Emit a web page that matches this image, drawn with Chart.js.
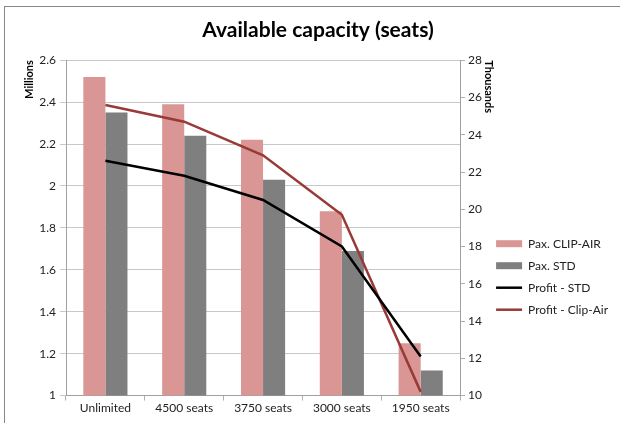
<!DOCTYPE html>
<html>
<head>
<meta charset="utf-8">
<script src="https://cdn.jsdelivr.net/npm/chart.js@4/dist/chart.umd.min.js"></script>
<style>
  body { margin: 0; background: #fff; }
  #frame { position: absolute; left: 4px; top: 6px; width: 700px; height: 500px;
           border-top: 1px solid #888; border-left: 1px solid #888; }
  #wrap { position: absolute; left: 0; top: 0; width: 620px; height: 423px; }
</style>
</head>
<body>
<div id="frame"></div>
<div id="wrap"><canvas id="grafico" width="620" height="423"></canvas></div>
<script>
      // ---------- dados ----------
      const categories = ["Unlimited", "4500 seats", "3750 seats", "3000 seats", "1950 seats"];
      const paxClipAir = [2.52, 2.39, 2.22, 1.88, 1.25];     // millions
      const paxStd = [2.35, 2.24, 2.03, 1.69, 1.12];         // millions
      const profitStd = [22.6, 21.8, 20.5, 18.0, 12.1];      // thousands
      const profitClipAir = [25.6, 24.7, 22.9, 19.7, 10.2];  // thousands

      const fonte = "Lato, 'Open Sans', sans-serif";
      Chart.defaults.font.family = fonte;
      Chart.defaults.color = "#222";

      const ctx = document.getElementById("grafico").getContext("2d");
      new Chart(ctx, {
        type: "bar",
        data: {
          labels: categories,
          datasets: [
            {
              label: "Pax. CLIP-AIR",
              data: paxClipAir,
              backgroundColor: "#D99694",
              pointStyle: "rect",
              yAxisID: "y",
              order: 2
            },
            {
              label: "Pax. STD",
              data: paxStd,
              backgroundColor: "#7F7F7F",
              pointStyle: "rect",
              yAxisID: "y",
              order: 2
            },
            {
              type: "line",
              label: "Profit - STD",
              data: profitStd,
              borderColor: "#000000",
              backgroundColor: "#000000",
              borderWidth: 2.5,
              pointRadius: 0,
              pointStyle: "line",
              yAxisID: "y1",
              order: 1
            },
            {
              type: "line",
              label: "Profit - Clip-Air",
              data: profitClipAir,
              borderColor: "#983A38",
              backgroundColor: "#983A38",
              borderWidth: 2.5,
              pointRadius: 0,
              pointStyle: "line",
              yAxisID: "y1",
              order: 1
            }
          ]
        },
        options: {
          responsive: false,
          animation: false,
          layout: { padding: { left: 18, right: 2, top: 8, bottom: 8 } },
          datasets: {
            bar: { categoryPercentage: 0.56, barPercentage: 1.0 }
          },
          plugins: {
            tooltip: { enabled: false },
            title: {
              display: true,
              text: "Available capacity (seats)",
              color: "#000",
              font: { size: 21, weight: "bold" },
              padding: { top: 10, bottom: 17 }
            },
            legend: {
              display: true,
              position: "right",
              align: "center",
              maxWidth: 200,
              title: { display: true, text: "", padding: { top: 116, bottom: 0 } },
              labels: {
                usePointStyle: true,
                pointStyleWidth: 26,
                boxHeight: 7,
                padding: 10,
                color: "#222",
                font: { size: 12 },
                sort: (a, b) => a.datasetIndex - b.datasetIndex
              }
            }
          },
          scales: {
            x: {
              offset: true,
              grid: { offset: true, drawOnChartArea: false, tickLength: 5, color: "#b0b0b0" },
              border: { color: "#a0a0a0" },
              ticks: { font: { size: 12 }, color: "#222", padding: 0, maxRotation: 0 }
            },
            y: {
              position: "left",
              min: 1,
              max: 2.6,
              ticks: {
                stepSize: 0.2,
                font: { size: 12 },
                color: "#222",
                padding: 4,
                callback: (v) => Number(v.toFixed(1))
              },
              grid: { color: "#c8c8c8", tickLength: 6 },
              border: { color: "#a0a0a0" },
              title: {
                display: true,
                text: "Millions",
                align: "end",
                color: "#000",
                font: { size: 11, weight: "bold" },
                padding: { top: 5, bottom: 0 }
              },
              afterFit: (s) => { s.width = 48; }
            },
            y1: {
              position: "right",
              min: 10,
              max: 28,
              ticks: { stepSize: 2, font: { size: 12 }, color: "#222", padding: 3 },
              grid: { drawOnChartArea: false, tickLength: 5, color: "#b0b0b0" },
              border: { color: "#a0a0a0" },
              title: {
                display: true,
                text: "Thousands",
                align: "end",
                color: "#000",
                font: { size: 11, weight: "bold" },
                padding: { top: -9, bottom: 0 }
              },
              afterFit: (s) => { s.width = 26; }
            }
          }
        }
      });
</script>
</body>
</html>
